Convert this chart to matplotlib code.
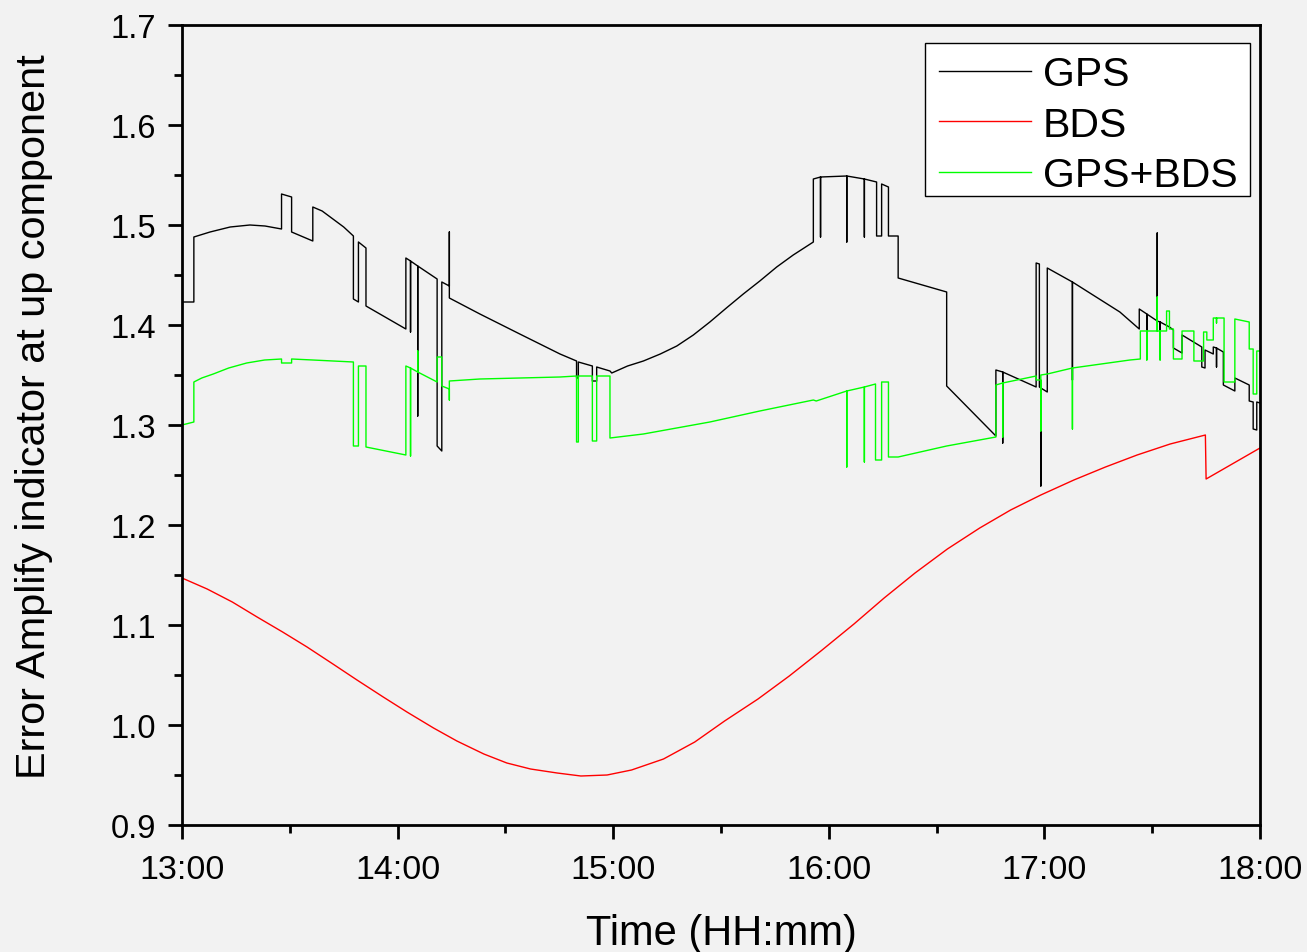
import matplotlib
matplotlib.use('Agg')
import matplotlib.pyplot as plt
from matplotlib.patches import Rectangle
from matplotlib.ticker import MultipleLocator

# time in minutes after 13:00
gps_min = [0.0, 3.3, 3.3, 7.8, 13.4, 18.9, 23.1, 27.7, 27.7, 30.5, 30.5, 36.4,
           36.4, 39.0, 42.0, 45.0, 47.7, 47.7, 49.1, 49.1, 51.2, 51.2, 62.3,
           62.3, 63.6, 63.6, 63.6, 65.6, 65.6, 65.6, 71.0, 71.0, 72.3, 72.3,
           74.4, 74.4, 74.4, 82.9, 94.0, 105.2, 109.8, 109.8, 110.3, 110.3,
           114.2, 114.2, 115.4, 115.4, 119.1, 119.6, 124.0, 128.4, 133.1,
           137.7, 142.3, 146.9, 151.5, 156.2, 160.8, 165.5, 170.1, 175.7,
           175.7, 177.7, 177.7, 177.7, 185.0, 185.0, 185.0, 189.9, 189.9,
           189.9, 193.3, 193.3, 194.7, 194.7, 196.6, 196.6, 199.3, 199.3,
           212.8, 212.8, 226.5, 226.5, 228.4, 228.4, 228.4, 237.7, 237.7,
           238.6, 238.6, 239.0, 239.0, 239.0, 240.8, 240.8, 247.8, 247.8,
           247.8, 261.0, 266.4, 266.4, 268.5, 268.5, 268.5, 271.4, 271.4,
           271.4, 272.2, 272.2, 272.2, 274.8, 275.9, 275.9, 278.3, 278.3,
           283.8, 283.8, 284.7, 284.7, 287.0, 287.0, 287.9, 287.9, 287.9,
           289.8, 289.8, 293.0, 293.0, 297.0, 297.0, 298.1, 298.1, 299.1,
           299.1, 300.0]
gps_val = [1.423, 1.423, 1.488, 1.493, 1.498, 1.500, 1.499, 1.496, 1.531, 1.528,
           1.493, 1.484, 1.518, 1.514, 1.506, 1.498, 1.489, 1.426, 1.423,
           1.483, 1.477, 1.419, 1.396, 1.467, 1.464, 1.393, 1.464, 1.459,
           1.309, 1.459, 1.446, 1.279, 1.274, 1.443, 1.439, 1.493, 1.427,
           1.411, 1.391, 1.371, 1.364, 1.347, 1.347, 1.363, 1.359, 1.344,
           1.344, 1.358, 1.354, 1.352, 1.359, 1.364, 1.371, 1.379, 1.390,
           1.403, 1.417, 1.431, 1.444, 1.458, 1.470, 1.483, 1.546, 1.548,
           1.488, 1.548, 1.549, 1.483, 1.549, 1.546, 1.488, 1.546, 1.543,
           1.489, 1.489, 1.541, 1.538, 1.489, 1.489, 1.447, 1.433, 1.339,
           1.289, 1.355, 1.353, 1.282, 1.353, 1.338, 1.462, 1.461, 1.338,
           1.337, 1.239, 1.337, 1.333, 1.457, 1.443, 1.345, 1.443, 1.413,
           1.396, 1.416, 1.411, 1.366, 1.411, 1.404, 1.492, 1.404, 1.403,
           1.366, 1.403, 1.398, 1.395, 1.377, 1.372, 1.390, 1.378, 1.358,
           1.357, 1.375, 1.371, 1.378, 1.377, 1.358, 1.377, 1.373, 1.340,
           1.334, 1.347, 1.340, 1.324, 1.323, 1.296, 1.295, 1.323, 1.322]

bds_min = [0, 7.0, 14, 20.9, 28, 34.8, 42, 48.7, 56, 62.6, 70, 76.5, 84, 90.4,
           97, 104.4, 111, 118.3, 125.1, 134, 142.7, 151, 160.3, 169, 177.8,
           187, 195.4, 204, 213.0, 222, 230.6, 239, 248.2, 257, 265.8, 275,
           284.8, 285.0, 300]
bds_val = [1.147, 1.136, 1.123, 1.108, 1.093, 1.078, 1.061, 1.045, 1.028,
           1.013, 0.997, 0.984, 0.971, 0.962, 0.956, 0.952, 0.949, 0.950,
           0.955, 0.966, 0.983, 1.004, 1.026, 1.049, 1.074, 1.101, 1.127,
           1.152, 1.176, 1.197, 1.215, 1.230, 1.245, 1.258, 1.270, 1.281,
           1.290, 1.246, 1.277]

combo_min = [0.0, 3.3, 3.3, 5.5, 8.7, 13.0, 18.0, 23.0, 27.7, 27.7, 30.5, 30.5,
             36.4, 47.7, 47.7, 49.1, 49.1, 51.2, 51.2, 62.3, 62.3, 63.6, 63.6,
             63.6, 65.6, 65.6, 65.6, 71.0, 71.0, 72.3, 72.3, 74.4, 74.4, 74.4,
             82.9, 105.2, 109.8, 109.8, 110.3, 110.3, 114.2, 114.2, 115.4,
             115.4, 119.1, 119.1, 128.4, 146.9, 160.8, 175.7, 176.5, 185.0,
             185.0, 185.0, 189.9, 189.9, 189.9, 193.0, 193.0, 194.7, 194.7,
             196.6, 196.6, 199.3, 212.8, 226.5, 226.5, 228.4, 228.4, 228.4,
             237.7, 237.7, 239.0, 239.0, 239.0, 240.8, 247.8, 247.8, 247.8,
             263.8, 266.7, 266.7, 268.5, 268.5, 268.5, 271.4, 271.4, 271.4,
             272.2, 272.2, 272.2, 274.0, 274.0, 274.8, 274.8, 275.9, 275.9,
             278.3, 278.3, 281.6, 281.6, 284.3, 284.3, 285.2, 285.2, 287.0,
             287.0, 287.9, 287.9, 287.9, 290.0, 290.0, 293.0, 293.0, 297.0,
             297.0, 298.1, 298.1, 299.1, 299.1, 300.0]
combo_val = [1.300, 1.303, 1.343, 1.347, 1.351, 1.357, 1.362, 1.365, 1.366,
             1.362, 1.362, 1.366, 1.365, 1.363, 1.279, 1.279, 1.359, 1.359,
             1.278, 1.270, 1.359, 1.357, 1.269, 1.357, 1.353, 1.374, 1.353,
             1.343, 1.368, 1.368, 1.339, 1.336, 1.325, 1.344, 1.346, 1.348,
             1.349, 1.283, 1.283, 1.349, 1.349, 1.284, 1.284, 1.349, 1.349,
             1.287, 1.291, 1.303, 1.314, 1.325, 1.324, 1.334, 1.258, 1.334,
             1.338, 1.263, 1.338, 1.341, 1.265, 1.265, 1.343, 1.343, 1.268,
             1.268, 1.279, 1.288, 1.340, 1.342, 1.288, 1.342, 1.349, 1.345,
             1.345, 1.294, 1.350, 1.351, 1.357, 1.296, 1.357, 1.365, 1.366,
             1.394, 1.394, 1.365, 1.394, 1.394, 1.428, 1.394, 1.394, 1.365,
             1.394, 1.394, 1.414, 1.414, 1.396, 1.396, 1.366, 1.366, 1.394,
             1.394, 1.364, 1.364, 1.393, 1.393, 1.385, 1.385, 1.407, 1.407,
             1.402, 1.407, 1.407, 1.343, 1.343, 1.406, 1.403, 1.376, 1.376,
             1.331, 1.331, 1.374, 1.374]

hour_ticks = [0, 60, 120, 180, 240, 300]
hour_labels = ['13:00', '14:00', '15:00', '16:00', '17:00', '18:00']
y_ticks = [0.9, 1.0, 1.1, 1.2, 1.3, 1.4, 1.5, 1.6, 1.7]

plt.rcParams['font.family'] = ['Liberation Sans', 'DejaVu Sans']
bg = '#f2f2f2'

fig = plt.figure(figsize=(13.07, 9.53), dpi=100, facecolor=bg)
ax = fig.add_axes([182 / 1307, 1 - 826 / 953, 1078 / 1307, 800 / 953])
ax.set_facecolor(bg)

ax.plot(gps_min, gps_val, color='black', lw=1.0, label='GPS')
ax.plot(bds_min, bds_val, color='#ff0000', lw=1.0, label='BDS')
ax.plot(combo_min, combo_val, color='#00ff00', lw=1.0, label='GPS+BDS')

ax.set_xlim(0, 300)
ax.set_ylim(0.9, 1.7)
ax.set_xticks(hour_ticks)
ax.set_xticklabels(hour_labels)
ax.set_yticks(y_ticks)
ax.set_yticklabels(['%.1f' % v for v in y_ticks])
ax.xaxis.set_minor_locator(MultipleLocator(30))
ax.yaxis.set_minor_locator(MultipleLocator(0.05))

ax.tick_params(which='major', direction='out', length=10, width=2,
               color='black')
ax.tick_params(which='minor', direction='out', length=5.5, width=2)
ax.tick_params(axis='x', pad=11, labelsize=24.5)
ax.tick_params(axis='y', pad=8.5, labelsize=23.5)
for s in ax.spines.values():
    s.set_linewidth(2)

ax.set_xlabel('Time (HH:mm)', fontsize=30)
ax.set_ylabel('Error Amplify indicator at up component', fontsize=29.8)
ax.xaxis.set_label_coords(0.5, -0.11)
ax.yaxis.set_label_coords(-0.12, 0.512)

# legend box drawn by hand so its padding can be set per side
box = Rectangle((0.6892, 0.78625), 0.3015, 0.19125, transform=ax.transAxes,
                facecolor='white', edgecolor='black', lw=1.0, zorder=4)
ax.add_patch(box)
leg = ax.legend(loc='upper right', bbox_to_anchor=(0.9907, 0.9775),
                borderaxespad=0, fontsize=29.5, frameon=False,
                handlelength=2.24, handletextpad=0.29, labelspacing=0.3,
                borderpad=0.3)
leg.set_zorder(5)

fig.savefig('out.png', dpi=100, facecolor=bg)
